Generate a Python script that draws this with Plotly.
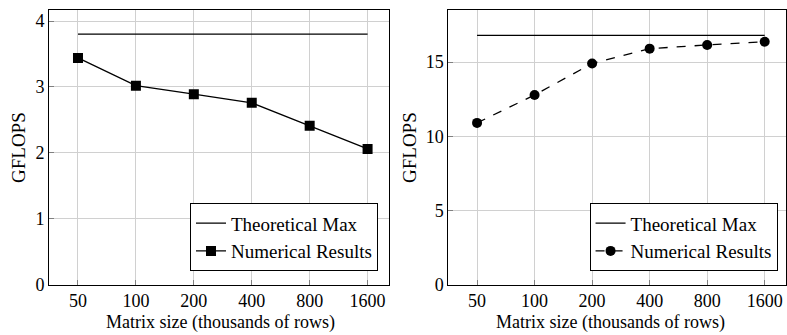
import math
import plotly.graph_objects as go
from plotly.subplots import make_subplots

# Matrix sizes (thousands of rows) and measured throughput
matrix_sizes = [50, 100, 200, 400, 800, 1600]
tick_labels = ["50", "100", "200", "400", "800", "1600"]

left_theoretical_max = 3.8
left_results = [3.44, 3.02, 2.89, 2.76, 2.41, 2.06]

right_theoretical_max = 16.8
right_results = [10.9, 12.78, 14.9, 15.9, 16.15, 16.37]

x_title = "Matrix size (thousands of rows)"
y_title = "GFLOPS"

FONT = "Liberation Serif"
fig = make_subplots(rows=1, cols=2)

# Left panel
fig.add_trace(go.Scatter(
    x=matrix_sizes, y=[left_theoretical_max] * len(matrix_sizes),
    mode="lines", name="Theoretical Max",
    line=dict(color="black", width=1.3), legend="legend",
), row=1, col=1)
fig.add_trace(go.Scatter(
    x=matrix_sizes, y=left_results,
    mode="lines+markers", name="Numerical Results",
    line=dict(color="black", width=1.3),
    marker=dict(symbol="square", size=10, color="black"),
    legend="legend",
), row=1, col=1)

# Right panel
fig.add_trace(go.Scatter(
    x=matrix_sizes, y=[right_theoretical_max] * len(matrix_sizes),
    mode="lines", name="Theoretical Max",
    line=dict(color="black", width=1.3), legend="legend2",
), row=1, col=2)
fig.add_trace(go.Scatter(
    x=matrix_sizes, y=right_results,
    mode="lines+markers", name="Numerical Results",
    line=dict(color="black", width=1.3, dash="dash"),
    marker=dict(symbol="circle", size=10, color="black"),
    legend="legend2",
), row=1, col=2)

step = math.log10(2)
xr = [math.log10(matrix_sizes[0]) - 0.5 * step, math.log10(matrix_sizes[-1]) + 0.37 * step]

axis_common = dict(
    showline=True, linecolor="black", linewidth=1, mirror=True,
    showgrid=True, gridcolor="#d0d0d0", gridwidth=1,
    ticks="inside", ticklen=5, tickcolor="#808080",
    tickfont=dict(family=FONT, size=18, color="black"),
    zeroline=False, automargin=False,
)

fig.update_xaxes(type="log", range=xr, tickvals=matrix_sizes, ticktext=tick_labels,
                 **axis_common)
fig.update_yaxes(
    title=dict(text=y_title, standoff=4, font=dict(family=FONT, size=19, color="black")),
    **axis_common,
)
fig.update_yaxes(range=[0, 4.16], tickvals=[0, 1, 2, 3, 4], row=1, col=1)
fig.update_yaxes(range=[0, 18.47], tickvals=[0, 5, 10, 15], row=1, col=2)

# x-axis titles sit at the bottom edge, below the tick labels
for xc in (0.2802, 0.776):
    fig.add_annotation(
        text=x_title, xref="paper", yref="paper", x=xc, y=0,
        xanchor="center", yanchor="bottom", yshift=0, showarrow=False,
        font=dict(family=FONT, size=18, color="black"),
    )

legend_common = dict(
    xanchor="right", yanchor="bottom",
    bgcolor="white", bordercolor="black", borderwidth=1,
    font=dict(family=FONT, size=19, color="black"),
    itemwidth=30, tracegroupgap=0,
)

fig.update_layout(
    width=787, height=335,
    margin=dict(l=0, r=0, t=0, b=0),
    paper_bgcolor="white", plot_bgcolor="white",
    font=dict(family=FONT, size=18, color="black"),
    xaxis=dict(domain=[0.0623, 0.4943]),
    xaxis2=dict(domain=[0.5696, 0.9987]),
    yaxis=dict(domain=[0.15, 0.9687]),
    yaxis2=dict(domain=[0.15, 0.9687]),
    legend=dict(x=0.4803, y=0.19, **legend_common),
    legend2=dict(x=0.988, y=0.19, **legend_common),
)

fig.write_html("out.html")
